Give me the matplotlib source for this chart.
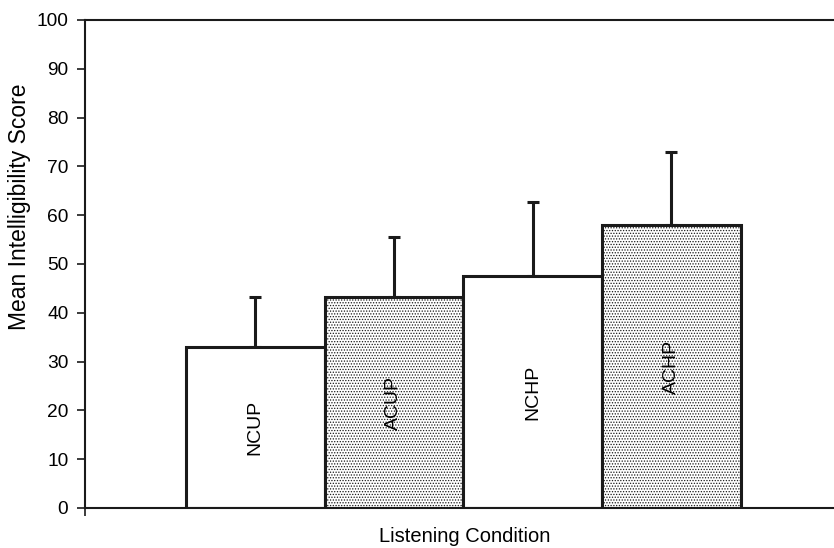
import matplotlib
matplotlib.use("Agg")
import matplotlib.pyplot as plt

conditions = ["NCUP", "ACUP", "NCHP", "ACHP"]
means = [33.0, 43.2, 47.5, 58.0]
err_up = [10.2, 12.3, 15.2, 14.9]
stippled = [False, True, False, True]

plt.rcParams["font.family"] = ["Liberation Sans", "DejaVu Sans"]
plt.rcParams["hatch.color"] = "#909090"
plt.rcParams["hatch.linewidth"] = 0.6

fig = plt.figure(figsize=(8.34, 5.48), dpi=100)
ax = fig.add_axes([85 / 834, 40 / 548, 748 / 834, 488 / 548])

xs = list(range(len(conditions)))
for x, m, s in zip(xs, means, stippled):
    ax.bar(x, m, width=1.0, facecolor="white", edgecolor="#1a1a1a",
           linewidth=2.2, hatch="......" if s else None, zorder=2)

# only the upper half of each error bar is shown
ax.errorbar(xs, means, yerr=[[0] * len(means), err_up], fmt="none",
            ecolor="#1a1a1a", elinewidth=2.2, capsize=4.3, capthick=2.2, zorder=1)

for x, m, name in zip(xs, means, conditions):
    ax.text(x, m / 2, name, rotation=90, ha="center", va="center",
            fontsize=14, zorder=3)

ax.set_xlim(-1.227, 4.165)
ax.set_ylim(0, 100)
ax.set_yticks(range(0, 101, 10))
ax.set_xticks([-1.227])
ax.set_xticklabels([""])
ax.tick_params(axis="both", length=6, width=1.2, labelsize=13.75, color="#1a1a1a")
ax.tick_params(axis="y", pad=6)

for side in ["left", "bottom", "top"]:
    ax.spines[side].set_linewidth(1.5)
    ax.spines[side].set_color("#1a1a1a")
ax.spines["right"].set_visible(False)

ax.set_xlabel("Listening Condition", fontsize=14.5)
ax.xaxis.label.set_va("center")
ax.xaxis.set_label_coords(0.507, -0.0594)
ax.set_ylabel("Mean Intelligibility Score", fontsize=16.5)
ax.yaxis.label.set_va("center")
ax.yaxis.set_label_coords(-0.088, 0.617)

fig.savefig("out.png", dpi=100)
